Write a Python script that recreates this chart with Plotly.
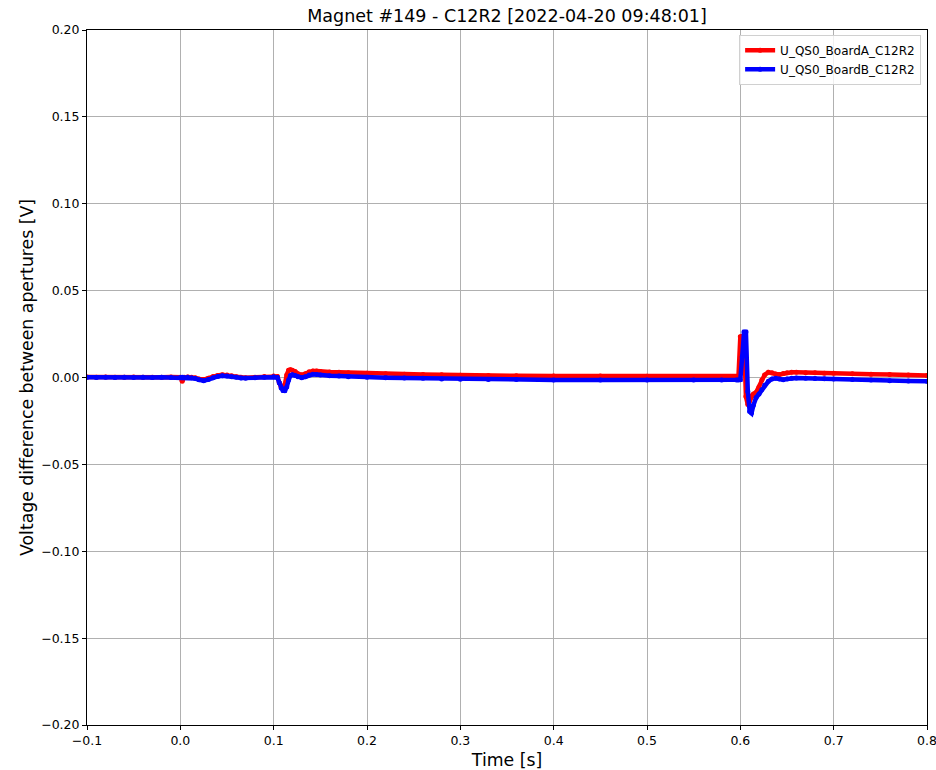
import plotly.graph_objects as go

# Sample times [s] shared by both acquisition boards
time_s = [
    -0.1, -0.09, -0.08, -0.07, -0.06, -0.05, -0.04, -0.03, -0.02, -0.01,
    0.0, 0.002, 0.004, 0.008, 0.012, 0.016, 0.02, 0.025, 0.03, 0.035,
    0.04, 0.045, 0.05, 0.055, 0.06, 0.065, 0.07, 0.08, 0.09, 0.1,
    0.104, 0.106, 0.108, 0.110, 0.112, 0.114, 0.116, 0.118, 0.120, 0.123,
    0.126, 0.13, 0.134, 0.138, 0.142, 0.146, 0.15, 0.16, 0.17, 0.18,
    0.2, 0.22, 0.24, 0.26, 0.28, 0.3, 0.33, 0.36, 0.4, 0.45,
    0.5, 0.55, 0.58, 0.596, 0.598, 0.600, 0.602, 0.604, 0.606, 0.608,
    0.610, 0.612, 0.614, 0.617, 0.620, 0.623, 0.626, 0.630, 0.634, 0.638,
    0.642, 0.646, 0.650, 0.655, 0.66, 0.67, 0.68, 0.69, 0.7, 0.72,
    0.74, 0.76, 0.78, 0.8,
]

# Voltage difference between apertures [V], board A
u_board_a = [
    0.0003, 0.0002, 0.0003, 0.0001, 0.0002, 0.0003, 0.0001, 0.0002, 0.0001, 0.0003,
    0.0002, -0.0022, 0.0001, 0.0003, 0.0002, -0.0002, -0.0008, -0.0012, -0.0004, 0.0006,
    0.0012, 0.0016, 0.0014, 0.0010, 0.0005, 0.0001, -0.0001, 0.0002, 0.0006, 0.0008,
    0.0006, -0.0030, -0.0055, -0.0062, -0.0040, 0.0015, 0.0042, 0.0045, 0.0042, 0.0035,
    0.0022, 0.0015, 0.0022, 0.0033, 0.0038, 0.0037, 0.0034, 0.0031, 0.0030, 0.0028,
    0.0024, 0.0021, 0.0019, 0.0017, 0.0016, 0.0013, 0.0011, 0.0010, 0.0009, 0.0008,
    0.0007, 0.0006, 0.0005, 0.0005, 0.0008, 0.0235, 0.0238, 0.0225, -0.0110, -0.0155,
    -0.0135, -0.0105, -0.0095, -0.0085, -0.0055, -0.0015, 0.0015, 0.0030, 0.0028, 0.0020,
    0.0017, 0.0023, 0.0028, 0.0030, 0.0030, 0.0028, 0.0027, 0.0025, 0.0024, 0.0022,
    0.0019, 0.0017, 0.0014, 0.0012,
]

# Voltage difference between apertures [V], board B
u_board_b = [
    0.0001, 0.0000, 0.0001, 0.0000, 0.0001, 0.0000, 0.0001, 0.0000, 0.0001, 0.0000,
    0.0000, 0.0001, 0.0000, 0.0001, -0.0001, -0.0006, -0.0013, -0.0018, -0.0012, -0.0002,
    0.0006, 0.0010, 0.0009, 0.0005, 0.0001, -0.0003, -0.0004, -0.0002, 0.0002, 0.0004,
    0.0000, -0.0030, -0.0060, -0.0075, -0.0076, -0.0055, -0.0015, 0.0012, 0.0016, 0.0012,
    0.0004, -0.0001, 0.0004, 0.0014, 0.0018, 0.0017, 0.0014, 0.0010, 0.0008, 0.0005,
    0.0002, -0.0001, -0.0003, -0.0005, -0.0008, -0.0010, -0.0011, -0.0012, -0.0014, -0.0014,
    -0.0015, -0.0015, -0.0015, -0.0015, -0.0014, -0.0013, 0.0120, 0.0262, 0.0262, -0.0080,
    -0.0195, -0.0205, -0.0160, -0.0115, -0.0095, -0.0070, -0.0045, -0.0022, -0.0008, -0.0004,
    -0.0009, -0.0013, -0.0008, -0.0004, -0.0003, -0.0004, -0.0006, -0.0007, -0.0008, -0.0012,
    -0.0015, -0.0018, -0.0020, -0.0021,
]

x_ticks = [-0.1, 0.0, 0.1, 0.2, 0.3, 0.4, 0.5, 0.6, 0.7, 0.8]
y_ticks = [-0.20, -0.15, -0.10, -0.05, 0.00, 0.05, 0.10, 0.15, 0.20]

FONT = "DejaVu Sans"

fig = go.Figure()
for name, values, color in [
    ("U_QS0_BoardA_C12R2", u_board_a, "#ff0000"),
    ("U_QS0_BoardB_C12R2", u_board_b, "#0000ff"),
]:
    fig.add_trace(go.Scatter(
        x=time_s, y=values, name=name, mode="lines+markers",
        line=dict(color=color, width=4.5),
        marker=dict(color=color, size=5),
    ))

axis_common = dict(
    showline=True, linecolor="black", linewidth=1, mirror=True,
    ticks="outside", ticklen=4, tickcolor="black", tickwidth=1,
    showgrid=True, gridcolor="#b0b0b0", gridwidth=1,
    zeroline=False, automargin=False, ticklabeloverflow="allow",
    tickfont=dict(family=FONT, size=12.5, color="black"),
)

fig.update_layout(
    width=936, height=770,
    margin=dict(l=87, r=9, t=30, b=45),
    paper_bgcolor="white", plot_bgcolor="white",
    font=dict(family=FONT, color="black"),
    title=dict(
        text="Magnet #149 - C12R2 [2022-04-20 09:48:01]",
        x=(87 + 927) / 2 / 936, xanchor="center",
        y=1 - 16 / 770, yanchor="middle",
        font=dict(family=FONT, size=17.5, color="black"),
    ),
    xaxis=dict(
        range=[-0.1, 0.8], tickvals=x_ticks, tickformat=".1f",
        title=dict(text="Time [s]", font=dict(family=FONT, size=17.3), standoff=8),
        **axis_common,
    ),
    yaxis=dict(
        range=[-0.2, 0.2], tickvals=y_ticks, tickformat=".2f",
        title=dict(text="Voltage difference between apertures [V]",
                   font=dict(family=FONT, size=17.3), standoff=3),
        **axis_common,
    ),
    legend=dict(
        x=0.993, y=0.993, xanchor="right", yanchor="top",
        bgcolor="rgba(255,255,255,0.8)", bordercolor="#d0d0d0", borderwidth=1,
        font=dict(family=FONT, size=12, color="black"),
    ),
    showlegend=True,
)

fig.write_html("out.html")
